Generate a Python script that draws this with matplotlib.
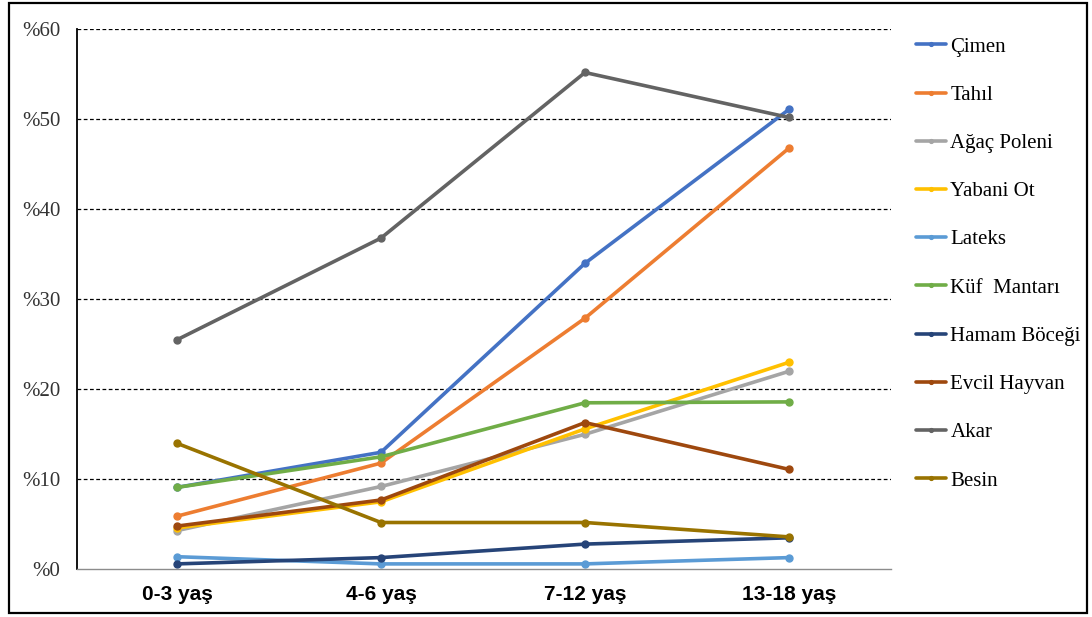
import matplotlib
matplotlib.use("Agg")
import matplotlib.pyplot as plt
from matplotlib.patches import Rectangle

categories = ["0-3 yaş", "4-6 yaş", "7-12 yaş", "13-18 yaş"]
series_names = ["Çimen", "Tahıl", "Ağaç Poleni", "Yabani Ot", "Lateks",
                "Küf  Mantarı", "Hamam Böceği", "Evcil Hayvan", "Akar", "Besin"]
cimen = [9.1, 13.0, 34.0, 51.1]
tahil = [5.9, 11.8, 27.9, 46.8]
agac_poleni = [4.3, 9.2, 15.0, 22.0]
yabani_ot = [4.6, 7.5, 15.6, 23.0]
lateks = [1.4, 0.6, 0.6, 1.3]
kuf_mantari = [9.1, 12.5, 18.5, 18.6]
hamam_bocegi = [0.6, 1.3, 2.8, 3.5]
evcil_hayvan = [4.8, 7.7, 16.3, 11.1]
akar = [25.5, 36.8, 55.2, 50.2]
besin = [14.0, 5.2, 5.2, 3.6]
y_ticks = [0, 10, 20, 30, 40, 50, 60]
y_tick_labels = ["%0", "%10", "%20", "%30", "%40", "%50", "%60"]

values = [cimen, tahil, agac_poleni, yabani_ot, lateks, kuf_mantari,
          hamam_bocegi, evcil_hayvan, akar, besin]
colors = ["#4472C4", "#ED7D31", "#A5A5A5", "#FFC000", "#5B9BD5",
          "#70AD47", "#264478", "#9E480E", "#636363", "#997300"]

W, H = 1092, 617
fig = plt.figure(figsize=(W / 100, H / 100), dpi=100)
fig.patch.set_facecolor("white")
ax = fig.add_axes([77 / W, (H - 569.3) / H, (891 - 77) / W, 540 / H])

x = list(range(len(categories)))
for name, vals, c in zip(series_names, values, colors):
    ax.plot(x, vals, color=c, lw=2.6, marker="o", ms=5, label=name,
            solid_capstyle="round", solid_joinstyle="round")

ax.set_xlim(-0.49, 3.5)
ax.set_ylim(0, 60)
ax.set_yticks(y_ticks)
ax.set_yticklabels(y_tick_labels, fontfamily="Liberation Serif", fontsize=15,
                   color="#333333")
ax.set_xticks(x)
ax.set_xticklabels(categories, fontfamily="Liberation Sans", fontweight="bold",
                   fontsize=15, color="black")
ax.tick_params(axis="y", length=0, pad=12)
ax.tick_params(axis="x", length=0, pad=11)
for yv in y_ticks[1:]:
    ax.axhline(yv, color="black", lw=0.9, ls=(0, (3, 2)), zorder=0.5)
for s in ["top", "right"]:
    ax.spines[s].set_visible(False)
ax.spines["left"].set_color("black")
ax.spines["left"].set_linewidth(1.3)
ax.spines["bottom"].set_color("#8c8c8c")
ax.spines["bottom"].set_linewidth(1.0)

leg = ax.legend(loc="upper left", bbox_to_anchor=(916 / W, (H - 37) / H),
                bbox_transform=fig.transFigure, frameon=False,
                prop={"family": "Liberation Serif", "size": 15},
                handlelength=1.45, handletextpad=0.2, labelspacing=1.375,
                borderpad=0, borderaxespad=0, numpoints=1, markerscale=0.55)

fig.patches.append(Rectangle((9 / W, (H - 613) / H), (1087 - 9) / W, 610 / H,
                             transform=fig.transFigure, fill=False,
                             edgecolor="black", lw=1.6))

fig.savefig("out.png", dpi=100)
